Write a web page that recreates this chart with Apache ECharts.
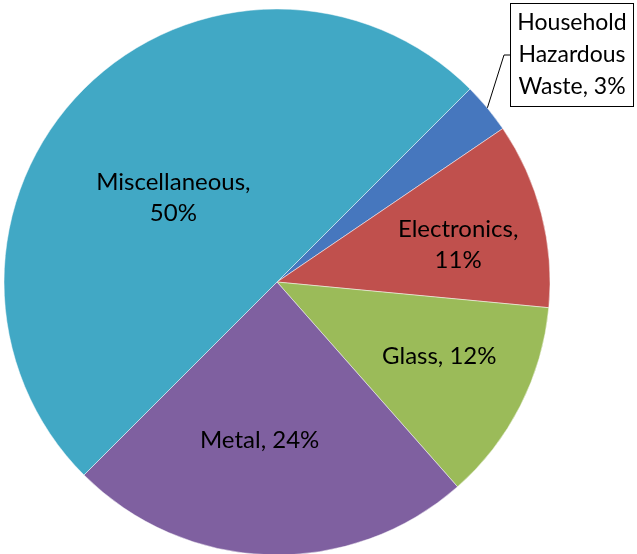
<!DOCTYPE html>
<html>
<head>
<meta charset="utf-8">
<script src="https://cdn.jsdelivr.net/npm/echarts@6/dist/echarts.min.js"></script>
<style>html,body{margin:0;padding:0;background:#fff}#c{width:637px;height:554px}</style>
</head>
<body>
<div id="c"></div>
<script>
var categories = ['Household Hazardous Waste', 'Electronics', 'Glass', 'Metal', 'Miscellaneous'];
var values = [3, 11, 12, 24, 50];
var colors = ['#4677BE', '#C0504D', '#9BBB59', '#7F60A0', '#41A8C5'];
// how the label text breaks: 'word' = one word per line, 'pct' = value on its own line, 'one' = single line
var wrapMode = ['word', 'pct', 'one', 'one', 'pct'];
// label layout adjustments (pixels)
var labelMoves = [
  {x: 572, y: 55, align: 'center', verticalAlign: 'middle'},
  {dx: 46, dy: -3},
  {dx: 38, dy: 11},
  {dx: -13, dy: 19},
  {dx: -5, dy: 14}
];

var chart = echarts.init(document.getElementById('c'));
var data = categories.map(function (c, i) {
  var item = {name: c, value: values[i], itemStyle: {color: colors[i]}};
  if (i === 0) {
    item.label = {
      position: 'outside',
      backgroundColor: '#fff',
      borderColor: '#000',
      borderWidth: 1,
      overflow: 'none',
      width: 112,
      align: 'center',
      lineHeight: 32,
      fontSize: 23,
      padding: [3, 5, 3, 5]
    };
    item.labelLine = {show: true, length: 20, length2: 6, lineStyle: {color: '#000', width: 1}};
  }
  return item;
});
chart.setOption({
  animation: false,
  series: [{
    type: 'pie',
    center: [277, 282],
    radius: 273,
    startAngle: 45,
    clockwise: true,
    data: data,
    itemStyle: {borderColor: 'rgba(255,255,255,0.6)', borderWidth: 0.8},
    label: {
      show: true,
      position: 'inside',
      color: '#000',
      fontFamily: 'Lato',
      fontSize: 24,
      lineHeight: 31,
      align: 'center',
      formatter: function (p) {
        var m = wrapMode[p.dataIndex];
        var pct = Math.round(p.percent) + '%';
        if (m === 'word') {
          var w = p.name.split(' ');
          w[w.length - 1] += ', ' + pct;
          return w.join('\n');
        }
        if (m === 'pct') return p.name + ',\n' + pct;
        return p.name + ', ' + pct;
      }
    },
    labelLine: {show: false},
    labelLayout: function (p) {
      return labelMoves[p.dataIndex];
    },
    emphasis: {disabled: true}
  }]
});
</script>
</body>
</html>
